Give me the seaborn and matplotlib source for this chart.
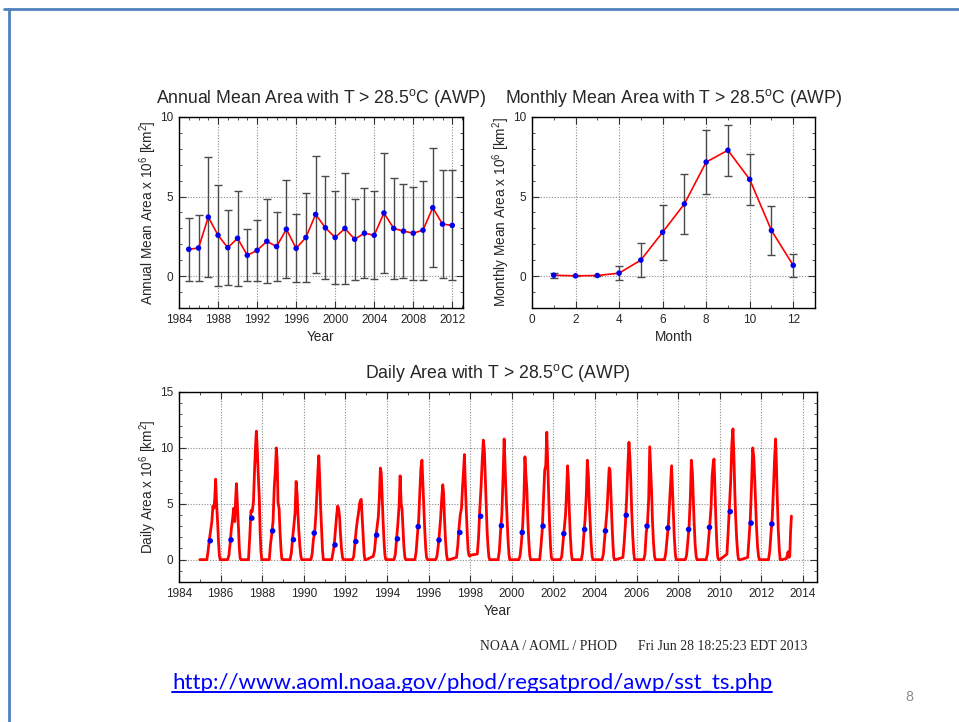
import numpy as np
import pandas as pd
import matplotlib
matplotlib.use("Agg")
import matplotlib.pyplot as plt
import seaborn as sns
from matplotlib.ticker import MultipleLocator
from matplotlib.lines import Line2D

# annual mean AWP area (10^6 km^2) and its std, 1985-2012
years = list(range(1985, 2013))
annual_mean = [1.69, 1.77, 3.71, 2.57, 1.79, 2.38, 1.31, 1.62, 2.19, 1.86,
               2.95, 1.75, 2.43, 3.88, 3.04, 2.43, 3.00, 2.32, 2.70, 2.57,
               3.97, 3.00, 2.83, 2.70, 2.89, 4.30, 3.27, 3.19]
annual_std = [1.99, 2.09, 3.75, 3.16, 2.34, 2.98, 1.64, 1.90, 2.64, 2.17,
              3.08, 2.14, 2.77, 3.65, 3.24, 2.94, 3.51, 2.55, 2.81, 2.77,
              3.77, 3.15, 2.97, 2.93, 3.12, 3.75, 3.39, 3.45]

# monthly climatology
months = list(range(1, 13))
monthly_mean = [0.06, 0.02, 0.04, 0.19, 1.01, 2.76, 4.54, 7.17, 7.91, 6.08, 2.87, 0.68]
monthly_std = [0.15, 0.03, 0.05, 0.44, 1.07, 1.73, 1.90, 2.03, 1.61, 1.61, 1.54, 0.72]

season_frac = [0.00, 0.34, 0.40, 0.46, 0.52, 0.58, 0.63, 0.68, 0.72, 0.76, 0.81, 0.86, 0.90, 0.94, 0.98]
daily_years = list(range(1985, 2013))
daily_area = [
    [0, 0.0, 0.8, 1.8, 2.6, 3.4, 4.8, 4.6, 5.5, 7.2, 4.9, 3.2, 1.6, 0.4, 0],    # 1985
    [0, 0.0, 0.4, 1.5, 2.8, 3.7, 4.6, 3.4, 5.3, 6.8, 4.9, 2.8, 1.0, 0.1, 0],    # 1986
    [0, 0.0, 2.0, 4.4, 4.3, 5.2, 7.9, 10.2, 11.5, 10.0, 7.6, 5.5, 2.5, 0.7, 0], # 1987
    [0, 0.0, 1.4, 2.3, 3.4, 6.5, 7.9, 10.0, 8.8, 5.1, 4.6, 2.4, 1.0, 0.1, 0],   # 1988
    [0, 0.0, 0.6, 1.9, 3.0, 4.2, 7.0, 5.8, 4.0, 2.6, 1.2, 0.3, 0, 0, 0],        # 1989
    [0, 0.0, 0.5, 1.8, 2.4, 4.0, 6.0, 8.0, 9.3, 7.5, 4.6, 2.4, 0.8, 0, 0],      # 1990
    [0, 0.0, 0.6, 1.3, 2.6, 4.0, 4.8, 4.5, 3.8, 2.4, 1.0, 0.2, 0, 0, 0],        # 1991
    [0, 0.0, 0.3, 1.5, 2.7, 3.6, 4.2, 5.0, 5.3, 5.4, 3.6, 1.8, 0.5, 0, 0],      # 1992
    [0, 0.3, 0.8, 2.0, 2.9, 3.8, 5.5, 8.2, 7.8, 6.0, 3.5, 1.5, 0.4, 0, 0],      # 1993
    [0, 0.0, 0.5, 1.8, 3.2, 4.8, 7.5, 5.0, 4.6, 3.0, 1.2, 0.2, 0, 0, 0],        # 1994
    [0, 0.0, 0.7, 2.2, 3.5, 6.2, 8.2, 8.9, 7.0, 5.3, 2.8, 1.0, 0.2, 0, 0],      # 1995
    [0, 0.0, 0.3, 1.2, 2.4, 3.8, 5.5, 6.7, 6.0, 3.8, 1.8, 0.5, 0, 0, 0],        # 1996
    [0, 0.2, 1.2, 2.8, 4.0, 4.6, 6.5, 8.0, 9.4, 7.0, 4.4, 2.2, 0.8, 0.4, 0.3],  # 1997
    [0.4, 0.5, 2.0, 4.5, 6.5, 9.0, 10.7, 9.8, 7.5, 5.2, 2.6, 1.0, 0.2, 0, 0],   # 1998
    [0, 0.0, 0.8, 2.6, 4.0, 7.5, 10.8, 8.0, 6.0, 4.2, 2.0, 0.5, 0, 0, 0],       # 1999
    [0, 0.0, 0.4, 1.5, 3.0, 5.5, 9.2, 7.5, 6.4, 4.0, 1.8, 0.4, 0, 0, 0],        # 2000
    [0, 0.0, 1.2, 2.6, 5.4, 8.0, 8.4, 11.4, 9.0, 6.5, 3.4, 1.2, 0.2, 0, 0],     # 2001
    [0, 0.0, 0.3, 1.5, 2.8, 4.0, 6.0, 8.4, 7.0, 4.5, 2.2, 0.6, 0, 0, 0],        # 2002
    [0, 0.0, 0.6, 2.2, 3.6, 5.8, 8.9, 7.5, 5.2, 3.5, 1.5, 0.3, 0, 0, 0],        # 2003
    [0, 0.0, 0.5, 1.8, 3.0, 4.5, 6.5, 8.2, 8.0, 6.0, 3.5, 1.4, 0.2, 0, 0],      # 2004
    [0, 0.2, 1.5, 3.2, 5.5, 8.5, 10.5, 9.0, 7.0, 4.5, 2.2, 0.6, 0, 0, 0],       # 2005
    [0, 0.0, 0.5, 2.4, 3.2, 5.5, 10.1, 7.8, 6.0, 3.5, 1.5, 0.3, 0, 0, 0],       # 2006
    [0, 0.0, 0.6, 1.8, 3.0, 5.0, 6.8, 8.4, 6.5, 4.5, 2.0, 0.5, 0, 0, 0],        # 2007
    [0, 0.0, 0.4, 1.6, 3.0, 5.5, 8.9, 7.8, 5.5, 3.5, 1.4, 0.3, 0, 0, 0],        # 2008
    [0, 0.0, 0.5, 1.8, 3.2, 4.8, 7.5, 8.6, 9.0, 6.5, 3.5, 1.2, 0.2, 0, 0],      # 2009
    [0, 0.5, 2.5, 4.8, 7.0, 10.5, 11.7, 9.0, 6.0, 3.8, 1.8, 0.5, 0, 0, 0],      # 2010
    [0, 0.2, 1.8, 3.5, 6.5, 10.0, 9.2, 7.0, 5.0, 3.0, 1.2, 0.3, 0, 0, 0],       # 2011
    [0, 0.0, 0.8, 2.4, 3.8, 6.5, 9.0, 10.8, 8.5, 5.5, 2.6, 0.8, 0, 0, 0],       # 2012
]
# last, partial year
frac_2013 = [0.00, 0.20, 0.28, 0.32, 0.36, 0.40, 0.44]
area_2013 = [0.0, 0.1, 0.7, 0.2, 0.3, 2.5, 3.9]

t = []
v = []
for yr, row in zip(daily_years, daily_area):
    t += [yr + f for f in season_frac]
    v += row
t += [2013 + f for f in frac_2013]
v += area_2013
daily = pd.DataFrame({"time": t, "area": v})
annual = pd.DataFrame({"year": years, "mean": annual_mean, "std": annual_std})
annual["mid"] = annual["year"] + 0.5
monthly = pd.DataFrame({"month": months, "mean": monthly_mean, "std": monthly_std})

sns.set_style("ticks")
plt.rcParams["font.family"] = ["Liberation Sans", "DejaVu Sans"]
plt.rcParams["mathtext.default"] = "regular"

W, H = 959, 722
fig = plt.figure(figsize=(W / 100, H / 100), dpi=100)


def box(l, t_, r, b):
    return [l / W, 1 - b / H, (r - l) / W, (b - t_) / H]


def style(ax):
    for s in ax.spines.values():
        s.set_visible(True)
        s.set_color("black")
        s.set_linewidth(1.0)
    ax.tick_params(which="both", direction="in", top=True, right=True,
                   labelsize=8.5, pad=4, color="#333333")
    ax.tick_params(which="major", length=5, width=0.8)
    ax.tick_params(which="minor", length=2.5, width=0.6)
    ax.grid(which="major", linestyle=(0, (1, 1.5)), color="#8a8a8a", linewidth=0.8)
    ax.set_axisbelow(True)


title_kw = dict(fontsize=12.7, pad=10)
label_kw = dict(fontsize=9.8)

# annual
ax1 = fig.add_axes(box(179, 117, 463, 308))
ax1.errorbar(annual["year"], annual["mean"], yerr=annual["std"], fmt="none",
             ecolor="#4a4a4a", elinewidth=1, capsize=2.8, capthick=1, zorder=2)
sns.lineplot(data=annual, x="year", y="mean", color="red", linewidth=1.2, ax=ax1, zorder=3)
sns.scatterplot(data=annual, x="year", y="mean", color="#0000ee", s=16,
                edgecolor="none", ax=ax1, zorder=4)
ax1.set_xlim(1984, 2013.1)
ax1.set_ylim(-2, 10)
ax1.xaxis.set_major_locator(MultipleLocator(4))
ax1.xaxis.set_minor_locator(MultipleLocator(1))
ax1.yaxis.set_major_locator(MultipleLocator(5))
ax1.yaxis.set_minor_locator(MultipleLocator(1))
ax1.set_title("Annual Mean Area with T > 28.5$^{o}$C (AWP)", **title_kw)
ax1.set_xlabel("Year", labelpad=3, **label_kw)
ax1.set_ylabel("Annual Mean Area x 10$^6$ [km$^2$]", labelpad=1, **label_kw)
style(ax1)

# monthly
ax2 = fig.add_axes(box(532, 117, 815, 308))
ax2.errorbar(monthly["month"], monthly["mean"], yerr=monthly["std"], fmt="none",
             ecolor="#4a4a4a", elinewidth=1, capsize=2.8, capthick=1, zorder=2)
sns.lineplot(data=monthly, x="month", y="mean", color="red", linewidth=1.2, ax=ax2, zorder=3)
sns.scatterplot(data=monthly, x="month", y="mean", color="#0000ee", s=16,
                edgecolor="none", ax=ax2, zorder=4)
ax2.set_xlim(0, 13)
ax2.set_ylim(-2, 10)
ax2.xaxis.set_major_locator(MultipleLocator(2))
ax2.xaxis.set_minor_locator(MultipleLocator(1))
ax2.yaxis.set_major_locator(MultipleLocator(5))
ax2.yaxis.set_minor_locator(MultipleLocator(1))
ax2.set_title("Monthly Mean Area with T > 28.5$^{o}$C (AWP)", **title_kw)
ax2.set_xlabel("Month", labelpad=3, **label_kw)
ax2.set_ylabel("Monthly Mean Area x 10$^6$ [km$^2$]", labelpad=1, **label_kw)
style(ax2)

# daily
ax3 = fig.add_axes(box(179, 392, 817, 582))
sns.lineplot(data=daily, x="time", y="area", color="red", linewidth=2.0,
             sort=False, estimator=None, ax=ax3, zorder=3)
sns.scatterplot(data=annual, x="mid", y="mean", color="#0000ee", s=16,
                edgecolor="none", ax=ax3, zorder=4)
ax3.set_xlim(1984, 2014.67)
ax3.set_ylim(-2, 15)
ax3.xaxis.set_major_locator(MultipleLocator(2))
ax3.xaxis.set_minor_locator(MultipleLocator(1))
ax3.yaxis.set_major_locator(MultipleLocator(5))
ax3.yaxis.set_minor_locator(MultipleLocator(1))
ax3.set_title("Daily Area with T > 28.5$^{o}$C (AWP)", **title_kw)
ax3.set_xlabel("Year", labelpad=3, **label_kw)
ax3.set_ylabel("Daily Area x 10$^6$ [km$^2$]", labelpad=1, **label_kw)
style(ax3)

# slide frame
fig.add_artist(Line2D([4 / W, 1], [1 - 9 / H, 1 - 9 / H], color="#4f81bd", lw=2))
fig.add_artist(Line2D([9 / W, 9 / W], [0, 1 - 9 / H], color="#4f81bd", lw=2))

fig.text(480 / W, 1 - 646 / H, "NOAA / AOML / PHOD", family="Liberation Serif",
         fontsize=9.9, va="center", ha="left")
fig.text(638 / W, 1 - 646 / H, "Fri Jun 28 18:25:23 EDT 2013", family="Liberation Serif",
         fontsize=9.9, va="center", ha="left")
url = fig.text(172 / W, 1 - 683 / H, "http://www.aoml.noaa.gov/phod/regsatprod/awp/sst_ts.php",
               family=["Lato", "DejaVu Sans"], fontsize=16, color="#0000ff",
               va="center", ha="left")
fig.text(909 / W, 1 - 697 / H, "8", family=["Lato", "DejaVu Sans"], fontsize=10,
         color="#8c8c8c", va="center", ha="center")

fig.canvas.draw()
bb = url.get_window_extent()
fig.add_artist(Line2D([bb.x0 / W, bb.x1 / W], [(bb.y0 + 1) / H, (bb.y0 + 1) / H],
                      color="#0000ff", lw=1.4))

fig.savefig("out.png", dpi=100)
